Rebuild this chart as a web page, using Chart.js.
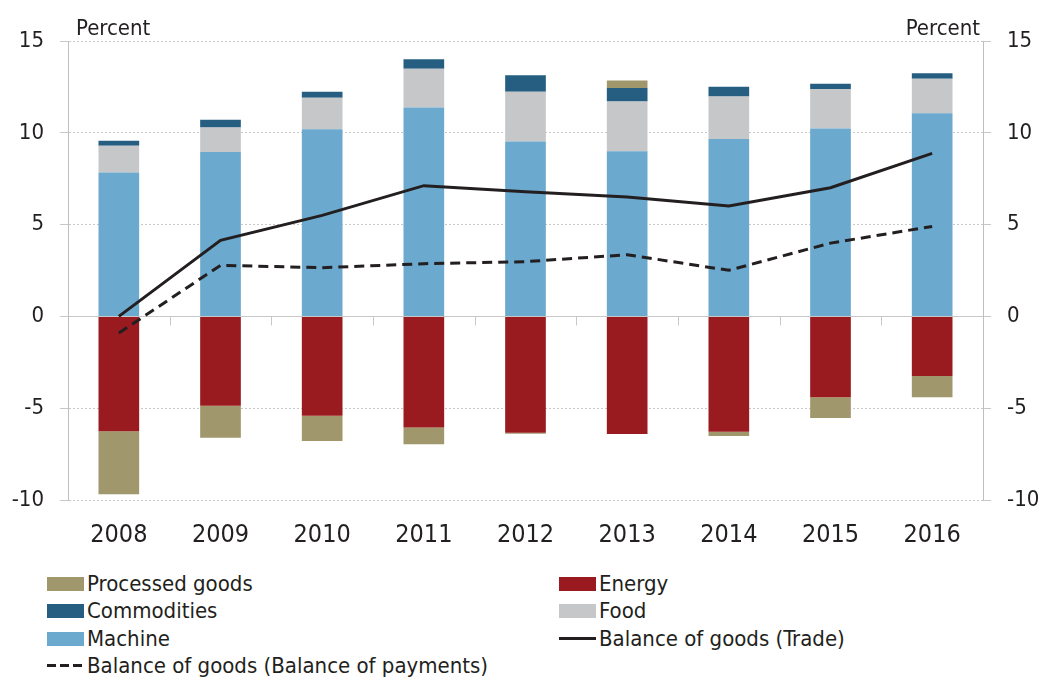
<!DOCTYPE html>
<html>
<head>
<meta charset="utf-8">
<script src="https://cdn.jsdelivr.net/npm/chart.js@4"></script>
<style>
  body { margin: 0; background: #fff; }
  #wrap { position: relative; width: 1041px; height: 678px; }
  #grafico { position: absolute; left: 0; top: 0; }
  #legenda { position: absolute; left: 0; top: 570px; width: 1041px;
    font-family: "DejaVu Sans Condensed", "DejaVu Sans", sans-serif; font-size: 22px; color: #231f20; }
  .item { position: absolute; height: 27px; line-height: 27px; white-space: nowrap; }
  .sw { display: inline-block; width: 37px; height: 14px; vertical-align: middle; margin-right: 3px; position: relative; top: -1px; }
</style>
</head>
<body>
<div id="wrap">
  <canvas id="grafico" width="1041" height="560"></canvas>
  <div id="legenda"></div>
</div>
<script>
// Dados
const anos = ['2008', '2009', '2010', '2011', '2012', '2013', '2014', '2015', '2016'];
const machine = [7.84, 8.95, 10.19, 11.38, 9.53, 8.99, 9.66, 10.24, 11.06];
const food = [1.46, 1.34, 1.72, 2.11, 2.71, 2.72, 2.32, 2.14, 1.88];
const commodities = [0.27, 0.42, 0.33, 0.52, 0.89, 0.73, 0.53, 0.29, 0.31];
const energy = [-6.26, -4.87, -5.41, -6.05, -6.34, -6.41, -6.28, -4.41, -3.25];
const processed = [-3.43, -1.74, -1.38, -0.92, -0.05, 0.41, -0.24, -1.13, -1.16];
const balancoTrade = [0.0, 4.14, 5.5, 7.12, 6.79, 6.5, 6.01, 7.01, 8.88];
const balancoBoP = [-0.91, 2.78, 2.65, 2.87, 2.98, 3.36, 2.51, 3.99, 4.9];
const ticksY = [-10, -5, 0, 5, 10, 15];

const fonte = '"DejaVu Sans Condensed", "DejaVu Sans", sans-serif';
const corTexto = '#231f20';
const corGrade = '#c8c8c8';

const cores = {
    processed: '#a0976c',
    energy: '#9a1b1f',
    commodities: '#255e80',
    food: '#c6c7c9',
    machine: '#6ca9ce'
};

// Plugin para "Percent" e as marcas no eixo zero
const extras = {
    id: 'extras',
    afterDraw(chart) {
        const { ctx, chartArea, scales } = chart;
        ctx.save();
        ctx.fillStyle = corTexto;
        ctx.font = '22px ' + fonte;
        ctx.textBaseline = 'alphabetic';
        ctx.textAlign = 'left';
        ctx.fillText('Percent', chartArea.left + 8, 35);
        ctx.textAlign = 'right';
        ctx.fillText('Percent', chartArea.right - 3, 35);

        // marcas entre categorias na linha zero
        const y0 = scales.y.getPixelForValue(0);
        ctx.strokeStyle = corGrade;
        ctx.lineWidth = 1;
        for (let i = 0; i < anos.length - 1; i++) {
            const x = Math.round((scales.x.getPixelForValue(i) + scales.x.getPixelForValue(i + 1)) / 2) + 0.5;
            ctx.beginPath();
            ctx.moveTo(x, y0);
            ctx.lineTo(x, y0 + 9);
            ctx.stroke();
        }
        ctx.restore();
    }
};

const barra = (label, data, cor) => ({
    type: 'bar',
    label: label,
    data: data,
    backgroundColor: cor,
    borderWidth: 0,
    stack: 'barras',
    order: 2,
    categoryPercentage: 1,
    barPercentage: 0.4
});

const ctx = document.getElementById('grafico').getContext('2d');
const grafico = new Chart(ctx, {
    data: {
        labels: anos,
        datasets: [
            barra('Machine', machine, cores.machine),
            barra('Energy', energy, cores.energy),
            barra('Food', food, cores.food),
            barra('Commodities', commodities, cores.commodities),
            barra('Processed goods', processed, cores.processed),
            {
                type: 'line',
                label: 'Balance of goods (Trade)',
                data: balancoTrade,
                borderColor: corTexto,
                borderWidth: 3,
                pointRadius: 0,
                tension: 0,
                stack: 'trade',
                order: 1
            },
            {
                type: 'line',
                label: 'Balance of goods (Balance of payments)',
                data: balancoBoP,
                borderColor: corTexto,
                borderWidth: 3,
                borderDash: [10, 6],
                pointRadius: 0,
                tension: 0,
                stack: 'bop',
                order: 1
            }
        ]
    },
    options: {
        responsive: false,
        animation: false,
        layout: { padding: { top: 41, left: 0, right: 0, bottom: 0 } },
        plugins: {
            legend: { display: false },
            tooltip: { enabled: false }
        },
        scales: {
            x: {
                stacked: true,
                offset: true,
                grid: { display: false },
                border: { display: false },
                ticks: {
                    color: corTexto,
                    font: { family: fonte, size: 25 },
                    padding: 12,
                    maxRotation: 0
                },
                afterFit: (s) => { s.height = 60; }
            },
            y: {
                stacked: true,
                position: 'left',
                min: -10,
                max: 15,
                afterBuildTicks: (s) => { s.ticks = ticksY.map(v => ({ value: v })); },
                grid: {
                    color: corGrade,
                    lineWidth: 1,
                    tickLength: 8,
                    tickBorderDash: [],
                    tickColor: corGrade
                },
                border: {
                    display: true,
                    color: '#bfbfbf',
                    dash: (c) => (c.tick && c.tick.value === 0 ? [] : [2, 2])
                },
                ticks: {
                    color: corTexto,
                    font: { family: fonte, size: 22 },
                    padding: 16
                },
                afterFit: (s) => { s.width = 68; }
            },
            y2: {
                display: true,
                position: 'right',
                min: -10,
                max: 15,
                afterBuildTicks: (s) => { s.ticks = ticksY.map(v => ({ value: v })); },
                grid: {
                    drawOnChartArea: false,
                    tickLength: 8,
                    tickColor: corGrade
                },
                border: { display: true, color: '#bfbfbf' },
                ticks: {
                    color: corTexto,
                    font: { family: fonte, size: 22 },
                    padding: 16
                },
                afterFit: (s) => { s.width = 58; }
            }
        }
    },
    plugins: [extras]
});

// Legenda em HTML, duas colunas
const itensLegenda = [
    { nome: 'Processed goods', tipo: 'caixa', cor: cores.processed },
    { nome: 'Energy', tipo: 'caixa', cor: cores.energy },
    { nome: 'Commodities', tipo: 'caixa', cor: cores.commodities },
    { nome: 'Food', tipo: 'caixa', cor: cores.food },
    { nome: 'Machine', tipo: 'caixa', cor: cores.machine },
    { nome: 'Balance of goods (Trade)', tipo: 'linha', cor: corTexto },
    { nome: 'Balance of goods (Balance of payments)', tipo: 'tracejado', cor: corTexto }
];

const legenda = document.getElementById('legenda');
itensLegenda.forEach((item, i) => {
    const div = document.createElement('div');
    div.className = 'item';
    const col = i % 2;
    const lin = Math.floor(i / 2);
    div.style.left = (col === 0 ? 47 : 559) + 'px';
    div.style.top = (lin * 27.3) + 'px';
    const sw = document.createElement('span');
    sw.className = 'sw';
    if (item.tipo === 'caixa') {
        sw.style.background = item.cor;
    } else if (item.tipo === 'linha') {
        sw.style.height = '3px';
        sw.style.background = item.cor;
    } else {
        sw.style.height = '3px';
        sw.style.background = `repeating-linear-gradient(90deg, ${item.cor} 0 9px, transparent 9px 13px)`;
    }
    div.appendChild(sw);
    div.appendChild(document.createTextNode(item.nome));
    legenda.appendChild(div);
});
</script>
</body>
</html>
